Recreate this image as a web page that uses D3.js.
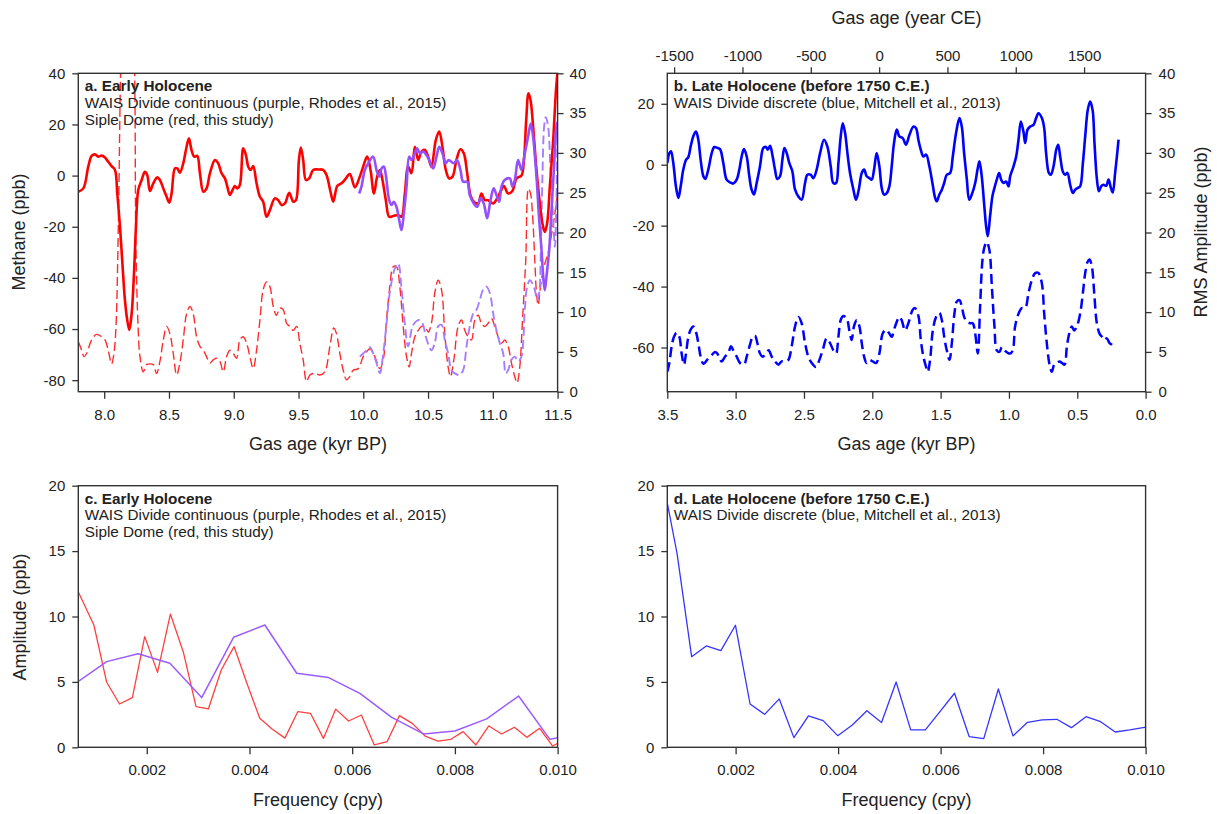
<!DOCTYPE html>
<html><head><meta charset="utf-8">
<script src="https://cdn.jsdelivr.net/npm/d3@7"></script>
<style>
body{margin:0;background:#fff}
svg{display:block}
text{font-family:"Liberation Sans",Arial,sans-serif;fill:#222}
</style></head><body>
<svg id="c" width="1217" height="814"></svg>
<script>
// ---------- DATA ----------
// Panel a: Siple Dome detrended methane (kyr BP, ppb)
const aRedCH4 = [[7.800,-6.3],[7.839,-5.0],[7.877,3.5],[7.903,7.7],[7.929,8.3],[7.954,7.4],[7.980,7.8],[8.006,7.1],[8.031,5.4],[8.057,3.7],[8.083,2.2],[8.101,-7.0],[8.122,-20.0],[8.142,-35.6],[8.160,-48.7],[8.178,-56.5],[8.194,-60.4],[8.212,-53.9],[8.230,-38.2],[8.245,-20.0],[8.263,-5.6],[8.289,-1.7],[8.314,1.5],[8.332,0.2],[8.353,-6.0],[8.379,-3.0],[8.410,-0.7],[8.430,-1.7],[8.456,-5.0],[8.482,-8.3],[8.502,-10.6],[8.520,-7.0],[8.546,2.8],[8.564,2.8],[8.584,1.1],[8.610,4.8],[8.636,11.3],[8.654,14.6],[8.674,10.0],[8.695,7.4],[8.718,7.7],[8.739,0.9],[8.765,-6.3],[8.790,-5.0],[8.816,0.9],[8.855,6.1],[8.880,4.8],[8.906,0.9],[8.932,-1.1],[8.950,-4.3],[8.970,-7.6],[8.991,-5.6],[9.009,-4.1],[9.027,-5.0],[9.047,-3.7],[9.073,10.7],[9.094,8.0],[9.112,3.5],[9.130,2.2],[9.150,3.7],[9.176,-3.0],[9.202,-8.3],[9.227,-10.2],[9.253,-16.1],[9.279,-13.5],[9.317,-8.9],[9.343,-9.6],[9.369,-11.5],[9.395,-10.9],[9.428,-6.7],[9.459,-10.2],[9.480,-9.6],[9.503,6.1],[9.518,11.0],[9.536,6.1],[9.557,-1.7],[9.582,-1.1],[9.613,2.2],[9.652,2.4],[9.690,2.2],[9.716,0.2],[9.747,-6.3],[9.768,-10.2],[9.800,-4.0],[9.832,-3.0],[9.860,-1.5],[9.896,0.6],[9.935,-4.6],[9.973,-0.4],[9.999,3.5],[10.030,7.4],[10.056,2.2],[10.082,-7.0],[10.107,-0.4],[10.128,2.2],[10.148,-1.7],[10.174,-9.6],[10.200,-16.1],[10.231,-15.8],[10.269,-15.4],[10.295,-16.1],[10.321,-7.0],[10.346,3.5],[10.372,0.9],[10.398,11.3],[10.424,6.1],[10.449,9.4],[10.475,10.0],[10.501,7.4],[10.526,3.5],[10.560,13.9],[10.586,17.2],[10.611,11.3],[10.637,2.2],[10.663,-1.1],[10.689,-0.4],[10.719,6.1],[10.750,10.3],[10.776,8.7],[10.802,0.9],[10.827,-7.6],[10.853,-10.2],[10.886,-10.9],[10.912,-7.0],[10.938,-9.6],[10.964,-9.6],[11.002,-10.9],[11.033,-8.9],[11.059,-6.3],[11.085,-4.1],[11.118,-7.0],[11.151,-6.0],[11.183,-1.1],[11.221,0.0],[11.240,6.0],[11.258,22.0],[11.275,32.2],[11.291,29.6],[11.311,19.2],[11.337,2.2],[11.363,-10.9],[11.383,-18.7],[11.401,-22.0],[11.419,-18.7],[11.440,-4.3],[11.466,13.9],[11.486,32.2],[11.500,41.0]];
// Panel a: Siple Dome RMS amplitude (kyr BP, ppb)
const aRedRMS = [[7.800,6.3],[7.826,5.2],[7.844,4.4],[7.864,4.8],[7.903,6.5],[7.941,7.2],[7.980,6.9],[8.006,6.5],[8.031,5.2],[8.057,3.5],[8.075,4.8],[8.091,8.2],[8.109,20.7],[8.135,45.0],[8.180,58.0],[8.228,45.0],[8.245,18.0],[8.262,8.0],[8.276,4.4],[8.302,2.5],[8.327,3.4],[8.353,3.5],[8.379,3.4],[8.404,2.3],[8.430,3.8],[8.456,6.5],[8.482,8.2],[8.507,7.3],[8.533,4.8],[8.559,2.1],[8.584,3.6],[8.610,6.5],[8.636,9.8],[8.662,10.7],[8.687,9.8],[8.713,6.9],[8.739,5.7],[8.765,5.2],[8.790,4.4],[8.816,3.6],[8.842,4.0],[8.867,4.2],[8.893,3.8],[8.919,2.5],[8.945,4.4],[8.970,5.2],[8.996,4.8],[9.022,4.2],[9.047,6.5],[9.073,6.9],[9.099,6.1],[9.125,4.4],[9.150,2.9],[9.176,5.2],[9.202,9.0],[9.227,12.8],[9.253,13.8],[9.279,13.2],[9.305,10.7],[9.330,9.6],[9.356,10.5],[9.382,10.3],[9.408,8.6],[9.433,8.2],[9.459,7.7],[9.485,8.2],[9.510,6.1],[9.536,4.0],[9.562,1.3],[9.588,2.1],[9.626,2.3],[9.665,2.1],[9.703,2.5],[9.742,5.7],[9.772,8.0],[9.793,7.3],[9.819,4.8],[9.845,2.7],[9.870,1.5],[9.896,1.9],[9.922,2.7],[9.961,2.9],[9.999,4.4],[10.025,5.0],[10.051,5.4],[10.089,4.4],[10.128,2.9],[10.154,4.0],[10.179,9.0],[10.205,13.2],[10.231,15.7],[10.256,15.7],[10.282,13.2],[10.308,8.2],[10.334,4.4],[10.354,3.1],[10.372,4.8],[10.398,6.9],[10.424,7.7],[10.449,8.2],[10.475,8.2],[10.501,7.5],[10.526,8.6],[10.552,12.4],[10.578,14.0],[10.604,12.8],[10.629,7.3],[10.655,3.1],[10.673,1.9],[10.699,4.0],[10.732,8.2],[10.758,9.0],[10.784,7.7],[10.809,6.9],[10.835,6.5],[10.861,9.0],[10.887,9.6],[10.912,8.6],[10.938,8.2],[10.964,8.6],[10.989,9.2],[11.015,8.2],[11.041,6.9],[11.067,6.1],[11.092,6.5],[11.118,5.7],[11.144,3.6],[11.169,1.9],[11.187,1.1],[11.208,3.1],[11.229,9.0],[11.254,16.5],[11.275,25.5],[11.291,24.9],[11.306,22.4],[11.324,16.5],[11.337,12.4],[11.350,10.9],[11.368,13.2],[11.389,15.3],[11.409,16.5],[11.427,17.4],[11.445,19.0],[11.466,21.0],[11.484,23.0],[11.500,25.0]];
// Panel a: WAIS Divide continuous methane (kyr BP, ppb)
const aPurCH4 = [[9.968,-7.0],[9.986,-4.3],[10.012,2.2],[10.038,4.8],[10.076,7.4],[10.102,2.2],[10.123,-0.4],[10.141,2.8],[10.159,3.5],[10.174,0.2],[10.200,-9.6],[10.218,-11.5],[10.236,-10.2],[10.256,-12.2],[10.277,-17.4],[10.295,-21.3],[10.313,-14.8],[10.334,-4.3],[10.354,7.4],[10.372,6.1],[10.398,8.7],[10.416,10.7],[10.436,8.7],[10.462,9.4],[10.488,8.0],[10.508,6.1],[10.539,2.8],[10.565,7.4],[10.586,11.3],[10.611,8.7],[10.637,4.8],[10.658,6.1],[10.699,4.8],[10.724,6.1],[10.750,2.2],[10.771,-2.4],[10.802,-2.4],[10.822,-7.6],[10.853,-10.9],[10.879,-12.2],[10.905,-8.9],[10.930,-10.9],[10.956,-16.7],[10.982,-9.6],[11.007,-5.0],[11.028,-7.6],[11.049,-10.2],[11.067,-4.3],[11.092,-1.7],[11.131,-1.1],[11.151,-4.3],[11.170,-1.7],[11.195,6.1],[11.221,2.2],[11.247,8.7],[11.272,15.2],[11.293,20.4],[11.311,15.2],[11.337,-0.4],[11.358,-17.4],[11.376,-29.1],[11.389,-39.5],[11.401,-44.8],[11.414,-39.5],[11.435,-29.1],[11.453,-13.5],[11.471,2.2],[11.491,19.1],[11.500,21.0]];
// Panel a: WAIS Divide RMS amplitude (kyr BP, ppb)
const aPurRMS = [[9.973,4.4],[9.999,4.8],[10.025,5.2],[10.051,5.6],[10.076,4.8],[10.102,3.6],[10.128,2.3],[10.154,4.8],[10.179,8.5],[10.205,12.5],[10.244,15.5],[10.269,16.1],[10.295,13.0],[10.321,8.5],[10.346,5.7],[10.380,8.2],[10.406,8.8],[10.431,9.0],[10.457,8.6],[10.483,6.9],[10.508,5.7],[10.526,5.2],[10.552,6.1],[10.578,8.2],[10.604,8.4],[10.629,6.5],[10.655,4.8],[10.681,2.7],[10.707,2.3],[10.745,2.1],[10.771,2.7],[10.797,5.7],[10.822,8.2],[10.848,9.8],[10.874,10.3],[10.899,11.5],[10.925,12.8],[10.951,13.2],[10.977,12.4],[11.003,9.8],[11.028,7.7],[11.054,6.1],[11.080,4.8],[11.100,2.3],[11.118,2.7],[11.144,4.0],[11.170,4.4],[11.196,3.8],[11.221,4.4],[11.234,6.1],[11.247,10.3],[11.265,13.2],[11.286,14.0],[11.306,13.6],[11.324,12.8],[11.342,11.5],[11.358,12.4],[11.371,18.2],[11.383,27.0],[11.396,33.3],[11.409,34.5],[11.427,33.3],[11.445,27.8],[11.466,21.6],[11.479,18.2],[11.491,24.1],[11.500,33.7]];
// Panel b: WAIS Divide discrete methane (kyr BP, ppb)
const bBlueCH4 = [[3.500,0.5],[3.485,3.8],[3.473,4.4],[3.456,0.5],[3.437,-7.1],[3.419,-10.9],[3.402,-7.1],[3.383,-1.6],[3.363,1.6],[3.346,2.5],[3.329,6.0],[3.310,9.3],[3.290,10.9],[3.273,8.2],[3.256,1.6],[3.236,-3.8],[3.222,-4.7],[3.200,-1.6],[3.175,3.8],[3.156,5.8],[3.132,5.5],[3.114,5.1],[3.090,0.5],[3.066,-4.9],[3.041,-5.8],[3.017,-6.2],[2.992,-4.9],[2.973,-1.6],[2.956,2.7],[2.939,5.1],[2.919,2.7],[2.900,-3.8],[2.883,-8.2],[2.866,-9.8],[2.846,-6.0],[2.822,-0.6],[2.797,5.5],[2.778,5.8],[2.765,4.9],[2.748,6.2],[2.729,2.7],[2.712,-1.6],[2.695,-4.7],[2.675,-3.8],[2.658,1.6],[2.643,5.5],[2.626,3.8],[2.607,0.5],[2.585,-2.2],[2.565,-8.2],[2.541,-10.4],[2.517,-11.5],[2.492,-6.0],[2.475,-3.3],[2.451,-3.3],[2.431,-4.4],[2.407,-1.6],[2.382,3.8],[2.353,8.2],[2.329,6.0],[2.304,-0.6],[2.285,-6.0],[2.265,-6.0],[2.248,0.5],[2.231,9.3],[2.216,13.6],[2.199,10.4],[2.182,3.8],[2.163,-2.7],[2.138,-8.2],[2.119,-11.5],[2.099,-8.2],[2.077,-2.7],[2.060,-1.6],[2.041,-3.8],[2.021,-4.4],[2.004,-4.9],[1.987,-1.6],[1.968,3.8],[1.948,-0.6],[1.931,-7.6],[1.914,-9.8],[1.894,-9.3],[1.875,-7.1],[1.858,-0.6],[1.841,7.1],[1.821,11.5],[1.802,9.3],[1.777,8.7],[1.753,6.6],[1.728,9.8],[1.699,12.5],[1.680,12.0],[1.662,8.0],[1.645,4.9],[1.626,2.7],[1.606,3.3],[1.582,-0.6],[1.560,-6.0],[1.540,-10.9],[1.528,-12.0],[1.509,-9.8],[1.491,-8.2],[1.474,-6.0],[1.455,-3.3],[1.430,-2.7],[1.411,2.7],[1.387,10.4],[1.362,15.3],[1.345,12.5],[1.328,3.8],[1.308,-4.9],[1.291,-11.5],[1.272,-9.8],[1.247,-6.0],[1.230,-1.6],[1.216,1.1],[1.199,-3.8],[1.182,-12.6],[1.167,-20.2],[1.155,-23.5],[1.138,-16.9],[1.121,-10.4],[1.106,-7.6],[1.089,-4.9],[1.072,-2.7],[1.057,-4.9],[1.040,-6.0],[1.021,-5.5],[1.003,-7.1],[0.991,-3.8],[0.967,-0.6],[0.947,2.7],[0.930,8.2],[0.913,14.2],[0.894,10.9],[0.881,7.1],[0.864,11.5],[0.845,12.5],[0.820,13.1],[0.801,15.3],[0.784,16.9],[0.759,15.3],[0.742,12.0],[0.728,3.8],[0.708,-2.7],[0.694,-3.3],[0.674,-0.6],[0.654,4.9],[0.640,6.5],[0.625,2.7],[0.606,-2.2],[0.589,-3.3],[0.572,-2.7],[0.552,-6.6],[0.532,-9.3],[0.515,-8.2],[0.496,-7.6],[0.479,-7.1],[0.459,0.5],[0.442,9.3],[0.423,18.0],[0.406,20.7],[0.388,18.0],[0.374,7.1],[0.357,-4.4],[0.342,-8.7],[0.325,-7.1],[0.308,-6.6],[0.288,-6.9],[0.271,-4.9],[0.254,-7.6],[0.240,-9.1],[0.223,-2.7],[0.210,2.7],[0.198,8.2]];
// Panel b: WAIS Divide discrete RMS amplitude (kyr BP, ppb)
const bBlueRMS = [[3.500,2.5],[3.485,3.6],[3.468,5.7],[3.451,6.9],[3.432,7.4],[3.412,6.9],[3.395,4.8],[3.378,3.4],[3.363,4.8],[3.346,6.9],[3.329,7.8],[3.310,8.2],[3.290,7.5],[3.273,6.1],[3.256,4.4],[3.236,3.5],[3.217,3.8],[3.200,4.2],[3.175,4.6],[3.151,5.0],[3.134,4.8],[3.119,4.2],[3.102,3.8],[3.078,4.4],[3.053,4.9],[3.034,5.7],[3.017,5.2],[2.992,4.4],[2.968,3.6],[2.939,3.4],[2.919,4.4],[2.895,5.9],[2.875,6.9],[2.858,7.0],[2.841,6.1],[2.822,4.8],[2.802,4.4],[2.778,4.8],[2.758,5.2],[2.736,4.4],[2.712,3.8],[2.687,3.4],[2.663,3.8],[2.639,3.8],[2.614,4.0],[2.590,5.7],[2.565,8.2],[2.541,9.4],[2.517,8.6],[2.492,6.1],[2.468,4.4],[2.443,3.6],[2.412,3.1],[2.387,4.0],[2.363,5.2],[2.334,6.7],[2.309,6.1],[2.285,5.2],[2.265,4.8],[2.248,6.9],[2.231,9.0],[2.212,9.5],[2.187,9.2],[2.168,7.7],[2.151,6.5],[2.134,8.2],[2.114,9.0],[2.094,8.2],[2.077,6.1],[2.060,4.4],[2.041,3.6],[2.021,4.0],[1.997,3.8],[1.972,3.6],[1.948,4.8],[1.924,7.3],[1.899,7.8],[1.875,7.3],[1.858,6.9],[1.833,8.2],[1.802,9.4],[1.785,9.0],[1.760,7.7],[1.736,8.6],[1.704,10.3],[1.687,10.5],[1.662,9.5],[1.645,6.5],[1.626,4.4],[1.606,3.1],[1.594,2.5],[1.577,4.0],[1.557,7.7],[1.533,9.4],[1.509,9.9],[1.491,9.0],[1.474,6.9],[1.455,5.2],[1.435,4.0],[1.418,6.1],[1.399,9.8],[1.382,11.3],[1.362,11.5],[1.345,10.7],[1.328,9.4],[1.308,8.8],[1.284,8.6],[1.265,8.6],[1.247,7.3],[1.228,4.8],[1.211,10.7],[1.194,16.5],[1.179,18.2],[1.162,18.8],[1.143,17.8],[1.125,13.2],[1.106,8.2],[1.089,5.2],[1.069,5.0],[1.052,5.6],[1.033,5.2],[1.011,4.9],[0.991,4.8],[0.972,5.2],[0.955,8.2],[0.930,9.8],[0.906,10.5],[0.881,10.5],[0.857,12.4],[0.833,14.0],[0.808,14.9],[0.784,14.9],[0.759,13.6],[0.742,9.8],[0.723,6.1],[0.703,3.4],[0.686,2.5],[0.669,3.4],[0.650,3.6],[0.630,3.8],[0.611,3.6],[0.593,3.4],[0.576,5.7],[0.559,7.3],[0.540,8.2],[0.523,7.7],[0.503,8.2],[0.479,9.8],[0.459,12.4],[0.442,14.9],[0.425,16.3],[0.410,16.6],[0.393,15.7],[0.376,12.4],[0.357,8.6],[0.337,7.3],[0.320,6.9],[0.303,6.5],[0.284,6.7],[0.264,6.1],[0.247,5.9],[0.235,5.7]];
// Panel c: spectra (frequency in cpy, amplitude in ppb)
const cRedFreq = [0.00067,0.00097,0.00122,0.00147,0.00172,0.00196,0.00221,0.00246,0.00271,0.00296,0.00320,0.00345,0.00370,0.00395,0.00420,0.00444,0.00469,0.00494,0.00519,0.00544,0.00568,0.00593,0.00618,0.00643,0.00668,0.00692,0.00717,0.00742,0.00767,0.00792,0.00816,0.00841,0.00866,0.00891,0.00916,0.00940,0.00965,0.00990,0.01015];
const cRedAmp = [11.85,9.35,4.97,3.31,3.80,8.46,5.73,10.19,7.31,3.11,2.93,5.91,7.70,4.89,2.22,1.40,0.70,2.72,2.59,0.68,2.92,2.01,2.47,0.18,0.43,2.42,1.83,0.86,0.48,0.61,1.20,0.18,1.63,1.02,1.53,0.76,1.45,0.10,0.60];
const cPurFreq = [0.00060,0.00122,0.00183,0.00245,0.00307,0.00369,0.00430,0.00492,0.00554,0.00615,0.00677,0.00739,0.00800,0.00862,0.00924,0.00985,0.01047];
const cPurAmp = [4.85,6.55,7.15,6.42,3.80,8.41,9.35,5.66,5.33,4.12,2.29,1.02,1.25,2.17,3.92,0.61,1.10];
// Panel d: spectrum
const dBlueFreq = [0.000572,0.000857,0.001142,0.001427,0.001712,0.001997,0.002282,0.002567,0.002852,0.003137,0.003422,0.003707,0.003992,0.004277,0.004562,0.004847,0.005132,0.005417,0.005702,0.005987,0.006272,0.006557,0.006842,0.007127,0.007412,0.007697,0.007982,0.008267,0.008552,0.008837,0.009122,0.009407,0.009692,0.009977,0.010262];
const dBlueAmp = [20.6,14.83,6.93,7.75,7.39,9.33,3.31,2.52,3.70,0.74,2.40,2.04,0.89,1.71,2.80,1.89,4.99,1.33,1.33,2.73,4.13,0.82,0.66,4.46,0.87,1.91,2.09,2.14,1.50,2.34,1.96,1.17,1.33,1.53,1.60];
// Tick values
const aXTicks = [8.0,8.5,9.0,9.5,10.0,10.5,11.0,11.5];
const aYTicks = [40,20,0,-20,-40,-60,-80];
const bXTicks = [3.5,3.0,2.5,2.0,1.5,1.0,0.5,0.0];
const bYTicks = [20,0,-20,-40,-60];
const bTopTicks = [-1500,-1000,-500,0,500,1000,1500];
const rmsTicks = [0,5,10,15,20,25,30,35,40];
const fTicks = [0.002,0.004,0.006,0.008,0.010];
const ampTicks = [0,5,10,15,20];

// ---------- LAYOUT ----------
const svg = d3.select("#c");
const BA = {l:78.3, r:557.6, t:73.3, b:391.7};
const BB = {l:667.3, r:1145.6, t:73.3, b:391.7};
const BC = {l:78.3, r:557.6, t:485.7, b:747.3};
const BD = {l:667.3, r:1145.6, t:485.7, b:747.3};
const TICKFS = 15, AXC = "#333";
const fmt1 = d => d.toFixed(1);
const fmtI = d => String(d);
const fmt3 = d => d.toFixed(3);

function clip(id, B){
  svg.append("clipPath").attr("id",id).append("rect")
    .attr("x",B.l).attr("y",B.t).attr("width",B.r-B.l).attr("height",B.b-B.t);
}
function styleAxis(g){
  g.select(".domain").remove();
  g.selectAll(".tick line").attr("stroke",AXC).attr("stroke-width",1.3);
  g.selectAll(".tick text").attr("font-size",TICKFS).attr("fill","#222")
    .attr("font-family","'Liberation Sans',Arial,sans-serif");
}
function frame(B){
  svg.append("rect").attr("x",B.l).attr("y",B.t).attr("width",B.r-B.l).attr("height",B.b-B.t)
    .attr("fill","none").attr("stroke",AXC).attr("stroke-width",1.4);
}
function line(data, x, y, color, w, dash, clipId, curve){
  const gen = d3.line().x(d=>x(d[0])).y(d=>y(d[1])).curve(curve);
  const p = svg.append("path").datum(data).attr("d",gen).attr("fill","none")
    .attr("stroke",color).attr("stroke-width",w).attr("stroke-linejoin","round")
    .attr("clip-path",`url(#${clipId})`);
  if(dash) p.attr("stroke-dasharray",dash);
}
function label(txt, x, y, opts={}){
  const t = svg.append("text").attr("x",x).attr("y",y).text(txt)
    .attr("font-size",opts.fs||18).attr("text-anchor",opts.anchor||"middle");
  if(opts.bold) t.attr("font-weight","bold");
  if(opts.rot) t.attr("transform",`rotate(-90,${x},${y})`);
  return t;
}
function panelText(B, lines){
  lines.forEach((s,i)=>{
    label(s, B.l+6.5, B.t+18+i*16.7, {fs:15.3, anchor:"start", bold:i===0});
  });
}
const smooth = d3.curveCatmullRom.alpha(0.5);
const bottomAxis = s => d3.axisBottom(s).tickSize(7).tickPadding(10.5);

// ---------- PANEL A ----------
clip("ca",BA);
const axA = d3.scaleLinear().domain([7.8,11.5]).range([BA.l,BA.r]);
const ayA = d3.scaleLinear().domain([-84.5,40]).range([BA.b,BA.t]);
const ayAR = d3.scaleLinear().domain([0,40]).range([BA.b,BA.t]);
line(aRedRMS, axA, ayAR, "#ff2b2b", 1.4, "9,4", "ca", smooth);
line(aPurRMS, axA, ayAR, "#a77dff", 1.9, "9,4", "ca", smooth);
line(aRedCH4, axA, ayA, "#ff0000", 2.6, null, "ca", smooth);
line(aPurCH4, axA, ayA, "#9450ff", 2.6, null, "ca", smooth);
frame(BA);
svg.append("g").attr("transform",`translate(0,${BA.b})`)
  .call(bottomAxis(axA).tickValues(aXTicks).tickFormat(fmt1)).call(styleAxis);
svg.append("g").attr("transform",`translate(${BA.l},0)`)
  .call(d3.axisLeft(ayA).tickValues(aYTicks).tickFormat(fmtI).tickSize(6).tickPadding(7)).call(styleAxis);
svg.append("g").attr("transform",`translate(${BA.r},0)`)
  .call(d3.axisRight(ayAR).tickValues(rmsTicks).tickFormat(fmtI).tickSize(6).tickPadding(6)).call(styleAxis);
panelText(BA, ["a. Early Holocene","WAIS Divide continuous (purple, Rhodes et al., 2015)","Siple Dome (red, this study)"]);
label("Gas age (kyr BP)", (BA.l+BA.r)/2, 450);
label("Methane (ppb)", 25, 232, {rot:true});

// ---------- PANEL B ----------
clip("cb",BB);
const axB = d3.scaleLinear().domain([3.5,0]).range([BB.l,BB.r]);
const axBtop = d3.scaleLinear().domain([1950-3500,1950]).range([BB.l,BB.r]);
const ayB = d3.scaleLinear().domain([-74.5,30]).range([BB.b,BB.t]);
const ayBR = d3.scaleLinear().domain([0,40]).range([BB.b,BB.t]);
line(bBlueRMS, axB, ayBR, "#0000ff", 2.5, "10,5", "cb", smooth);
line(bBlueCH4, axB, ayB, "#0000ff", 2.6, null, "cb", smooth);
frame(BB);
svg.append("g").attr("transform",`translate(0,${BB.b})`)
  .call(bottomAxis(axB).tickValues(bXTicks).tickFormat(fmt1)).call(styleAxis);
svg.append("g").attr("transform",`translate(0,${BB.t})`)
  .call(d3.axisTop(axBtop).tickValues(bTopTicks).tickFormat(fmtI).tickSize(6).tickPadding(6)).call(styleAxis);
svg.append("g").attr("transform",`translate(${BB.l},0)`)
  .call(d3.axisLeft(ayB).tickValues(bYTicks).tickFormat(fmtI).tickSize(6).tickPadding(7)).call(styleAxis);
svg.append("g").attr("transform",`translate(${BB.r},0)`)
  .call(d3.axisRight(ayBR).tickValues(rmsTicks).tickFormat(fmtI).tickSize(6).tickPadding(7)).call(styleAxis);
panelText(BB, ["b. Late Holocene (before 1750 C.E.)","WAIS Divide discrete (blue, Mitchell et al., 2013)"]);
label("Gas age (kyr BP)", (BB.l+BB.r)/2, 450);
label("Gas age (year CE)", (BB.l+BB.r)/2, 24);
label("RMS Amplitude (ppb)", 1207, 232, {rot:true});

// ---------- PANEL C ----------
clip("cc",BC);
const fx = B => d3.scaleLinear().domain([0.000667,0.010]).range([B.l,B.r]);
const axC = fx(BC), ayC = d3.scaleLinear().domain([0,20]).range([BC.b,BC.t]);
line(d3.zip(cRedFreq,cRedAmp), axC, ayC, "#ff4040", 1.3, null, "cc", d3.curveLinear);
line(d3.zip(cPurFreq,cPurAmp), axC, ayC, "#9a5cff", 1.5, null, "cc", d3.curveLinear);
frame(BC);
svg.append("g").attr("transform",`translate(0,${BC.b})`)
  .call(bottomAxis(axC).tickValues(fTicks).tickFormat(fmt3)).call(styleAxis);
svg.append("g").attr("transform",`translate(${BC.l},0)`)
  .call(d3.axisLeft(ayC).tickValues(ampTicks).tickFormat(fmtI).tickSize(6).tickPadding(7)).call(styleAxis);
panelText(BC, ["c. Early Holocene","WAIS Divide continuous (purple, Rhodes et al., 2015)","Siple Dome (red, this study)"]);
label("Frequency (cpy)", (BC.l+BC.r)/2, 806);
label("Amplitude (ppb)", 26, 617, {rot:true});

// ---------- PANEL D ----------
clip("cd",BD);
const axD = fx(BD), ayD = d3.scaleLinear().domain([0,20]).range([BD.b,BD.t]);
line(d3.zip(dBlueFreq,dBlueAmp), axD, ayD, "#3535ff", 1.3, null, "cd", d3.curveLinear);
frame(BD);
svg.append("g").attr("transform",`translate(0,${BD.b})`)
  .call(bottomAxis(axD).tickValues(fTicks).tickFormat(fmt3)).call(styleAxis);
svg.append("g").attr("transform",`translate(${BD.l},0)`)
  .call(d3.axisLeft(ayD).tickValues(ampTicks).tickFormat(fmtI).tickSize(6).tickPadding(7)).call(styleAxis);
panelText(BD, ["d. Late Holocene (before 1750 C.E.)","WAIS Divide discrete (blue, Mitchell et al., 2013)"]);
label("Frequency (cpy)", (BD.l+BD.r)/2, 806);
</script>
</body></html>
